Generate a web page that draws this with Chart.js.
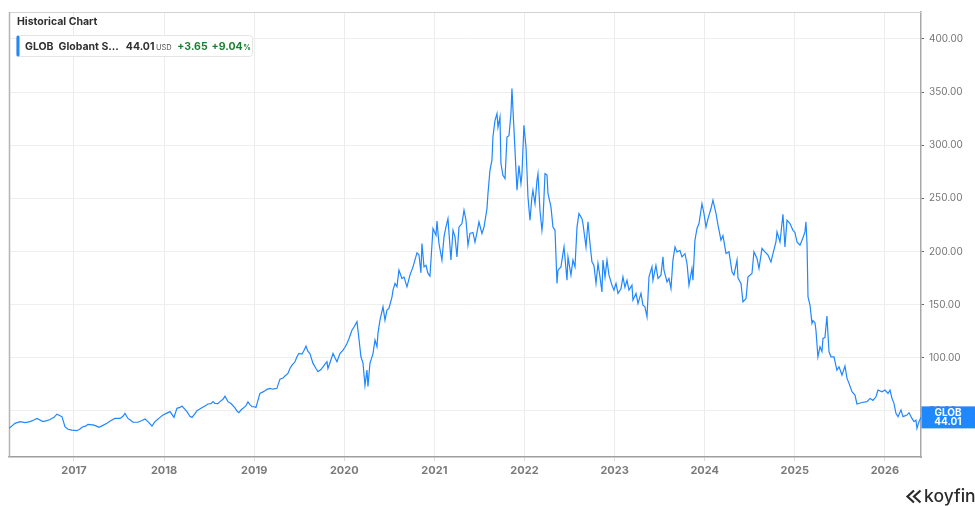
<!DOCTYPE html>
<html>
<head>
<meta charset="utf-8">
<script src="https://cdn.jsdelivr.net/npm/chart.js@4.4.1/dist/chart.umd.min.js"></script>
<style>
  html, body { margin: 0; padding: 0; background: #fff; }
  #wrap { width: 975px; height: 506px; }
</style>
</head>
<body>
<div id="wrap"><canvas id="histChart" width="975" height="506"></canvas></div>
<script>
// decimal years
const times = [
  2016.279, 2016.312, 2016.345, 2016.401, 2016.456, 2016.512, 2016.556, 2016.589, 2016.656, 2016.700,
  2016.734, 2016.778, 2016.811, 2016.845, 2016.867, 2016.900, 2016.933, 2016.978, 2017.033, 2017.067,
  2017.089, 2017.133, 2017.155, 2017.211, 2017.244, 2017.277, 2017.322, 2017.366, 2017.411, 2017.455,
  2017.511, 2017.544, 2017.566, 2017.599, 2017.633, 2017.655, 2017.710, 2017.755, 2017.788, 2017.821,
  2017.866, 2017.899, 2017.921, 2017.955, 2017.988, 2018.032, 2018.066, 2018.110, 2018.143, 2018.176,
  2018.199, 2018.232, 2018.254, 2018.287, 2018.310, 2018.343, 2018.365, 2018.410, 2018.454, 2018.487,
  2018.521, 2018.543, 2018.565, 2018.598, 2018.620, 2018.654, 2018.676, 2018.709, 2018.743, 2018.787,
  2018.809, 2018.831, 2018.854, 2018.876, 2018.909, 2018.931, 2018.953, 2018.976, 2018.998, 2019.020,
  2019.042, 2019.064, 2019.098, 2019.120, 2019.142, 2019.175, 2019.209, 2019.253, 2019.286, 2019.320,
  2019.342, 2019.375, 2019.397, 2019.420, 2019.453, 2019.475, 2019.497, 2019.531, 2019.553, 2019.575,
  2019.597, 2019.619, 2019.653, 2019.686, 2019.708, 2019.741, 2019.764, 2019.786, 2019.808, 2019.819,
  2019.852, 2019.875, 2019.897, 2019.919, 2019.952, 2019.986, 2020.008, 2020.030, 2020.052, 2020.085,
  2020.108, 2020.141, 2020.163, 2020.185, 2020.208, 2020.230, 2020.252, 2020.263, 2020.285, 2020.319,
  2020.341, 2020.363, 2020.374, 2020.396, 2020.430, 2020.452, 2020.474, 2020.496, 2020.530, 2020.541,
  2020.563, 2020.585, 2020.607, 2020.640, 2020.663, 2020.696, 2020.729, 2020.763, 2020.807, 2020.829,
  2020.851, 2020.862, 2020.885, 2020.907, 2020.929, 2020.951, 2020.985, 2021.018, 2021.029, 2021.051,
  2021.084, 2021.107, 2021.129, 2021.151, 2021.184, 2021.207, 2021.229, 2021.251, 2021.273, 2021.306,
  2021.329, 2021.351, 2021.373, 2021.395, 2021.428, 2021.451, 2021.473, 2021.495, 2021.528, 2021.551,
  2021.584, 2021.595, 2021.617, 2021.639, 2021.650, 2021.673, 2021.695, 2021.706, 2021.728, 2021.739,
  2021.761, 2021.784, 2021.806, 2021.828, 2021.850, 2021.861, 2021.884, 2021.906, 2021.917, 2021.939,
  2021.961, 2021.972, 2021.994, 2022.017, 2022.039, 2022.061, 2022.083, 2022.094, 2022.117, 2022.139,
  2022.150, 2022.172, 2022.194, 2022.205, 2022.228, 2022.250, 2022.261, 2022.294, 2022.316, 2022.339,
  2022.361, 2022.372, 2022.405, 2022.427, 2022.439, 2022.472, 2022.483, 2022.516, 2022.538, 2022.561,
  2022.583, 2022.605, 2022.638, 2022.649, 2022.683, 2022.705, 2022.727, 2022.749, 2022.771, 2022.794,
  2022.816, 2022.838, 2022.860, 2022.871, 2022.894, 2022.916, 2022.938, 2022.971, 2022.993, 2023.016,
  2023.038, 2023.071, 2023.093, 2023.115, 2023.138, 2023.160, 2023.193, 2023.204, 2023.238, 2023.260,
  2023.293, 2023.315, 2023.337, 2023.360, 2023.382, 2023.415, 2023.426, 2023.459, 2023.482, 2023.515,
  2023.537, 2023.548, 2023.582, 2023.604, 2023.626, 2023.648, 2023.671, 2023.693, 2023.726, 2023.748,
  2023.781, 2023.804, 2023.826, 2023.859, 2023.870, 2023.892, 2023.915, 2023.937, 2023.970, 2023.992,
  2024.015, 2024.037, 2024.070, 2024.092, 2024.126, 2024.148, 2024.181, 2024.203, 2024.237, 2024.270,
  2024.303, 2024.325, 2024.359, 2024.370, 2024.403, 2024.425, 2024.459, 2024.481, 2024.525, 2024.547,
  2024.581, 2024.603, 2024.636, 2024.669, 2024.703, 2024.736, 2024.758, 2024.791, 2024.803, 2024.836,
  2024.858, 2024.869, 2024.891, 2024.914, 2024.947, 2024.980, 2025.002, 2025.025, 2025.058, 2025.091,
  2025.113, 2025.124, 2025.136, 2025.147, 2025.169, 2025.191, 2025.202, 2025.224, 2025.235, 2025.257,
  2025.280, 2025.302, 2025.313, 2025.335, 2025.357, 2025.380, 2025.402, 2025.435, 2025.468, 2025.491,
  2025.524, 2025.557, 2025.580, 2025.602, 2025.635, 2025.668, 2025.690, 2025.746, 2025.801, 2025.835,
  2025.868, 2025.901, 2025.924, 2025.968, 2026.001, 2026.035, 2026.057, 2026.079, 2026.101, 2026.123,
  2026.146, 2026.179, 2026.201, 2026.245, 2026.268, 2026.301, 2026.323, 2026.345, 2026.356, 2026.379, 2026.401
];

const prices = [
  33.7, 36, 38.4, 40, 39, 40, 41.5, 43, 40, 41,
  42, 44, 47, 45.5, 44.7, 35.3, 32.8, 32, 31.5, 33,
  34.7, 36, 37.5, 37, 36, 34.7, 36.5, 38.4, 41, 43,
  43, 45, 47.8, 43, 41, 39.4, 39.4, 41, 42.5, 40,
  35.9, 40, 41.5, 44, 46.2, 48, 49.4, 44, 52.5, 53.4,
  54.7, 51.6, 49.4, 45, 44, 47.5, 50.3, 52.5, 54.7, 56.6,
  57, 58.8, 57.2, 57, 58.8, 61, 64, 58.8, 57, 53,
  50, 48.5, 51, 52.5, 55, 58.5, 56, 54, 54, 53.4,
  60, 66.6, 68, 69, 70.4, 71.3, 70.5, 71.3, 80, 81,
  82.9, 85.4, 90, 93.2, 96.3, 101, 104.2, 103.6, 107, 111,
  106, 104, 94.8, 90, 87, 89, 91.6, 94, 96.3, 90,
  98, 104.2, 100, 96.3, 104, 107.3, 110, 113.6, 118, 126,
  129, 134, 118, 101, 95, 74, 88.5, 73, 94.8, 104,
  116.7, 110.5, 123, 135.5, 148, 135.5, 145, 146.5, 157.4, 163.7,
  170, 167, 182.5, 174.7, 176, 166.8, 177.8, 185.6, 198.8, 197,
  180, 207.6, 185.6, 187, 179.4, 177, 221.7, 215.4, 228.8, 207.6,
  192, 213.8, 223.2, 231, 192, 220, 213.8, 195, 223, 226.4,
  239, 229.7, 206, 217, 218, 209, 218, 228, 217, 223,
  240.5, 254.6, 276.5, 286, 307.8, 323.5, 329.8, 317, 326.6, 282.8,
  271.8, 268.7, 307.8, 309, 329.8, 353.3, 314, 276.5, 257.7, 281,
  264, 273, 318.8, 298.4, 251.4, 229.5, 251.4, 257.7, 245, 267,
  273.3, 238.9, 220, 229, 273.3, 272, 254.6, 242, 223, 220,
  170, 182.5, 185.6, 198, 204.4, 173, 195, 177.8, 192, 185.6,
  223, 235.8, 231, 226.4, 204.4, 228, 207.6, 190.3, 187, 170,
  188.8, 176.2, 162, 192, 176, 192, 177.8, 168.4, 163.7, 170,
  160.6, 165, 176.2, 166.5, 173, 163.7, 168.4, 154.3, 160.6, 151.2,
  160.6, 149.6, 148, 138.6, 176.2, 185.6, 173, 187, 174.7, 177.8,
  195, 182.5, 171.5, 174.7, 165.3, 192, 204.4, 199.7, 201, 195,
  198, 188.8, 168.4, 184, 173, 210.7, 221.7, 226.4, 245, 236,
  223, 231, 240.5, 248.3, 235.8, 224.8, 210.7, 215, 198.2, 199.8,
  181, 177.8, 192, 175, 170, 152.7, 155.8, 176.2, 179.4, 199.7,
  193.5, 184, 202.9, 199.7, 196.6, 190.3, 198, 209, 218.5, 209,
  226.4, 235, 204.4, 229.5, 226.4, 220, 218, 209, 206, 213,
  218.5, 228, 207, 157.4, 149.6, 132.4, 135, 133, 126, 101,
  110.5, 106, 118.3, 119, 139.3, 105.7, 101, 101, 88.5, 91.6,
  83.8, 92.3, 80.7, 76, 68.1, 65, 56.6, 58, 58.8, 61.8,
  60, 63.4, 69.7, 68, 69.7, 66.5, 69.7, 61.9, 57.2, 47.8,
  44.7, 51, 44.7, 46.2, 48.4, 43, 40, 41.5, 33.7, 40, 44.01
];

const yearTicks = [2017, 2018, 2019, 2020, 2021, 2022, 2023, 2024, 2025, 2026];
const priceTicks = [50, 100, 150, 200, 250, 300, 350, 400];

const ticker = "GLOB";
const companyName = "Globant S...";
const lastPrice = 44.01;
const priceChange = "+3.65";
const pctChange = "+9.04";

document.addEventListener("DOMContentLoaded", function () {
  const ctx = document.getElementById("histChart").getContext("2d");
  const blue = "#1f87ff";
  const font = "Inter, 'Noto Sans', sans-serif";

  const frame = {
    id: "frame",
    beforeDatasetsDraw(chart) {
      const c = chart.ctx, a = chart.chartArea;
      c.save();
      c.strokeStyle = "#d2d2d2";
      c.lineWidth = 1;
      c.beginPath();
      c.moveTo(a.left, a.top + 0.5);
      c.lineTo(a.right, a.top + 0.5);
      c.stroke();
      c.strokeStyle = "#b4b4b4";
      c.lineWidth = 1.5;
      c.beginPath();
      c.moveTo(a.left + 0.5, a.top);
      c.lineTo(a.left + 0.5, a.bottom);
      c.stroke();
      c.restore();
    }
  };

  // draws a run of text pieces one after another, returns the end x
  function run(c, x, y, pieces) {
    pieces.forEach((p) => {
      c.font = p.font;
      c.fillStyle = p.color;
      x += p.gap || 0;
      c.fillText(p.text, x, y + (p.dy || 0));
      x += c.measureText(p.text).width;
    });
    return x;
  }

  const overlay = {
    id: "overlay",
    afterDraw(chart) {
      const c = chart.ctx;
      const y = chart.scales.y;
      c.save();

      // title
      c.fillStyle = "#2f2f2f";
      c.font = "bold 10.5px " + font;
      c.textBaseline = "middle";
      c.fillText("Historical Chart", 17, 22);

      // legend chip
      c.fillStyle = "#fff";
      c.strokeStyle = "#e4e4e4";
      c.lineWidth = 1;
      c.beginPath();
      c.roundRect(16.5, 35.5, 236, 21, 3);
      c.fill();
      c.stroke();
      c.fillStyle = blue;
      c.beginPath();
      c.roundRect(16.5, 35.5, 3, 21, 1.5);
      c.fill();

      const dark = "#2f2f2f", green = "#1e7d34";
      const b = "bold 10.5px " + font;
      run(c, 25, 46.5, [
        { text: ticker, font: b, color: dark },
        { text: companyName, font: b, color: dark, gap: 5 },
        { text: lastPrice.toFixed(2), font: b, color: dark, gap: 7 },
        { text: "USD", font: "7.5px " + font, color: "#555", gap: 1.5, dy: 1 },
        { text: priceChange, font: b, color: green, gap: 5.5 },
        { text: pctChange, font: b, color: green, gap: 4 },
        { text: "%", font: "bold 7.5px " + font, color: green, gap: 0.5, dy: 1 }
      ]);

      // last value tag
      const py = y.getPixelForValue(lastPrice);
      c.fillStyle = blue;
      c.fillRect(chart.chartArea.right + 0.5, py - 11, 54, 22);
      c.fillStyle = "#fff";
      c.font = "bold 10px " + font;
      c.textAlign = "center";
      c.fillText(ticker, 948, py - 4.5);
      c.fillText(lastPrice.toFixed(2), 948, py + 5);

      // koyfin mark
      c.strokeStyle = "#2b2b2b";
      c.lineWidth = 2.2;
      c.beginPath();
      c.moveTo(914, 490.5);
      c.lineTo(907.5, 496.5);
      c.lineTo(914, 502.5);
      c.moveTo(920.5, 490.5);
      c.lineTo(914, 496.5);
      c.lineTo(920.5, 502.5);
      c.stroke();
      c.fillStyle = "#2b2b2b";
      c.textAlign = "left";
      c.textBaseline = "alphabetic";
      c.font = "500 17.5px " + font;
      c.fillText("koyfin", 924, 502);
      c.restore();
    }
  };

  new Chart(ctx, {
    type: "line",
    data: {
      datasets: [
        {
          label: ticker,
          data: times.map((t, i) => ({ x: t, y: prices[i] })),
          borderColor: blue,
          borderWidth: 1.2,
          pointRadius: 0,
          fill: false,
          tension: 0
        }
      ]
    },
    options: {
      responsive: false,
      animation: false,
      layout: { padding: { left: 9, top: 12, right: 0, bottom: 0 } },
      plugins: {
        legend: { display: false },
        tooltip: { enabled: false }
      },
      scales: {
        x: {
          type: "linear",
          min: times[0],
          max: times[times.length - 1],
          afterBuildTicks: (s) => { s.ticks = yearTicks.map((v) => ({ value: v })); },
          afterFit: (s) => { s.height = 49; },
          ticks: {
            callback: (v, i) => String(yearTicks[i]),
            color: "#7a7a7a",
            font: { family: font, size: 11, weight: "bold" },
            padding: 3,
            maxRotation: 0
          },
          grid: { color: "#ececec", tickLength: 4, tickColor: "#dcdcdc" },
          border: { color: "#9e9e9e", width: 1.5 }
        },
        y: {
          position: "right",
          min: 6.72,
          max: 425.4,
          afterBuildTicks: (s) => { s.ticks = priceTicks.map((v) => ({ value: v })); },
          afterFit: (s) => { s.width = 54; },
          ticks: {
            callback: (v) => Number(v).toFixed(2),
            color: "#767676",
            font: { family: font, size: 10 },
            padding: 5
          },
          grid: { color: "#eeeeee", tickLength: 3, tickColor: "#666" },
          border: { color: "#a8a8a8", width: 1.5 }
        }
      }
    },
    plugins: [frame, overlay]
  });
});
</script>
</body>
</html>
